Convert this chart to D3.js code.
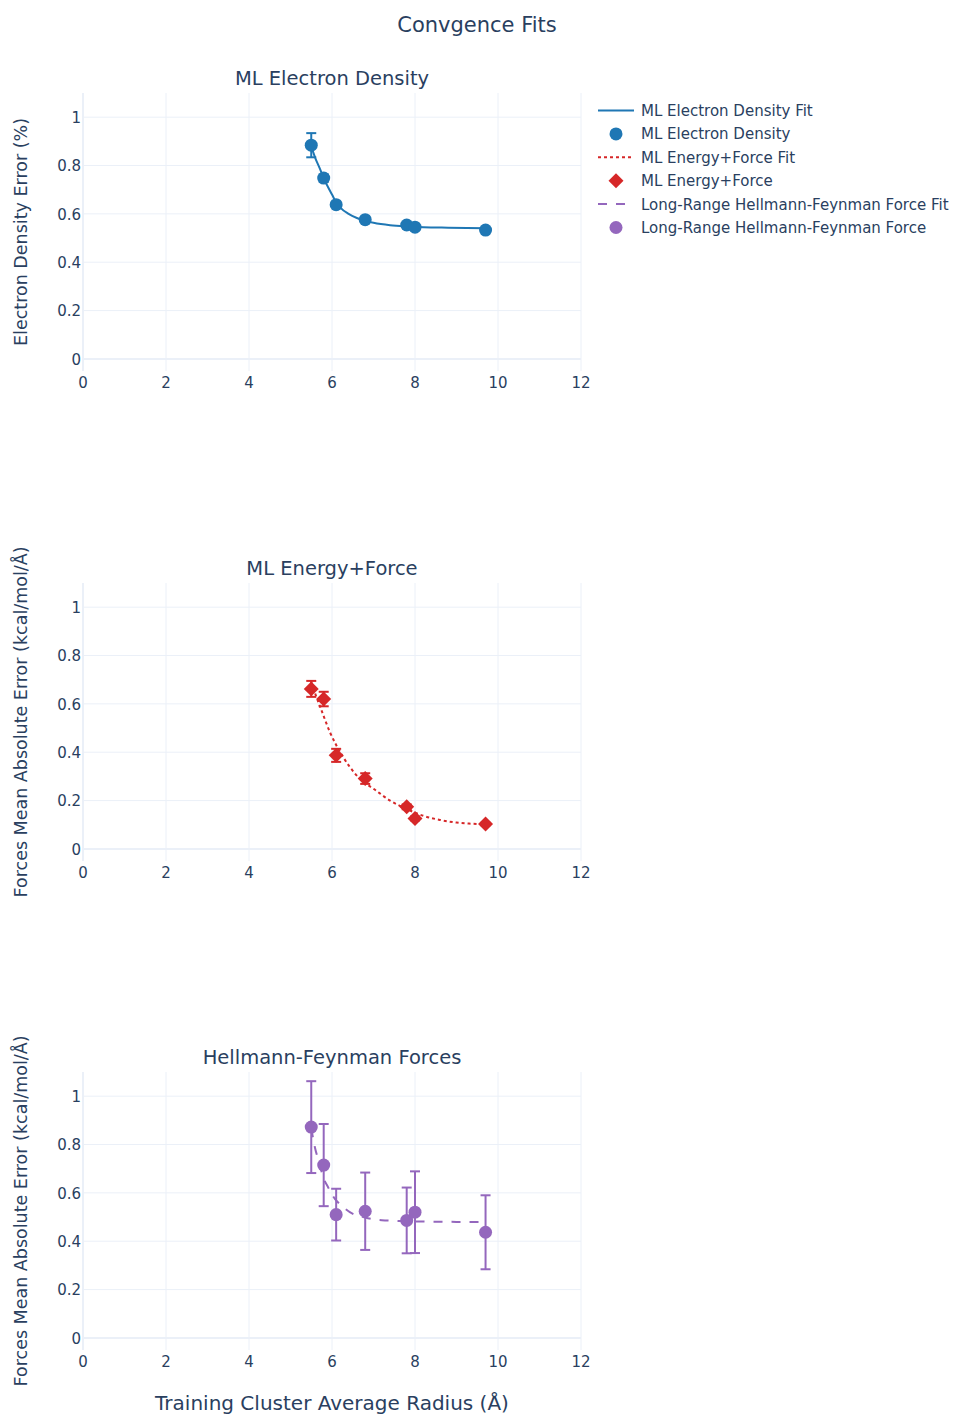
<!DOCTYPE html>
<html>
<head>
<meta charset="utf-8">
<script src="https://cdn.jsdelivr.net/npm/d3@7"></script>
<style>
  html, body { margin: 0; padding: 0; background: #fff; }
  text { font-family: "DejaVu Sans", Verdana, sans-serif; fill: #2a3f5f; }
</style>
</head>
<body>
<svg id="chart" width="953" height="1414"></svg>
<script>
// ---------------- DATA ----------------
const radius = [5.5, 5.8, 6.1, 6.8, 7.8, 8.0, 9.7];

const densityErr = [0.884, 0.748, 0.638, 0.576, 0.554, 0.545, 0.533];
const densityStd = [0.05, 0.015, 0.008, 0.006, 0.006, 0.005, 0.004];
const densityFitX = [5.5, 5.6, 5.7, 5.8, 5.9, 6.0, 6.1, 6.2, 6.4, 6.6, 6.8, 7.0, 7.4, 7.8, 8.2, 8.8, 9.7];
const densityFitY = [0.878, 0.83, 0.79, 0.748, 0.712, 0.68, 0.648, 0.626, 0.6, 0.583, 0.571, 0.563, 0.553, 0.548, 0.545, 0.543, 0.541];

const energyForceErr = [0.662, 0.620, 0.387, 0.291, 0.174, 0.126, 0.103];
const energyForceStd = [0.033, 0.03, 0.027, 0.022, 0.01, 0.008, 0.005];
const energyFitX = [5.5, 5.6, 5.75, 5.95, 6.1, 6.43, 6.7, 7.0, 7.4, 7.8, 8.2, 8.6, 9.0, 9.3, 9.7];
const energyFitY = [0.69, 0.64, 0.572, 0.483, 0.43, 0.339, 0.285, 0.249, 0.2, 0.165, 0.137, 0.12, 0.109, 0.105, 0.102];

const hfForceErr = [0.872, 0.715, 0.510, 0.524, 0.486, 0.520, 0.437];
const hfForceStd = [0.19, 0.17, 0.107, 0.16, 0.136, 0.169, 0.153];
const hfFitX = [5.5, 5.59, 5.7, 5.79, 5.9, 6.07, 6.23, 6.43, 6.8, 7.2, 7.6, 8.3, 9.0, 9.7];
const hfFitY = [0.867, 0.787, 0.72, 0.664, 0.625, 0.575, 0.547, 0.52, 0.498, 0.487, 0.484, 0.481, 0.48, 0.48];

const xTicks = [0, 2, 4, 6, 8, 10, 12];
const yTicks = [0, 0.2, 0.4, 0.6, 0.8, 1];
const yTickLabels = ["0", "0.2", "0.4", "0.6", "0.8", "1"];

const chartTitle = "Convgence Fits";
const subplotTitles = ["ML Electron Density", "ML Energy+Force", "Hellmann-Feynman Forces"];
const yTitles = ["Electron Density Error (%)", "Forces Mean Absolute Error (kcal/mol/Å)", "Forces Mean Absolute Error (kcal/mol/Å)"];
const xTitle = "Training Cluster Average Radius (Å)";
const legendNames = ["ML Electron Density Fit", "ML Electron Density", "ML Energy+Force Fit", "ML Energy+Force",
                     "Long-Range Hellmann-Feynman Force Fit", "Long-Range Hellmann-Feynman Force"];

// ---------------- LAYOUT ----------------
const svg = d3.select("#chart");
const colors = ["#1f77b4", "#d62728", "#9467bd"];
const gridColor = "#EBF0F8";
const plotLeft = 83, plotRight = 581, plotH = 278;
const panelTops = [93, 583, 1072];

const x = d3.scaleLinear().domain([0, 12]).range([plotLeft, plotRight]);

// plotly-like square diamond symbol
const squareDiamond = {
  draw(context, size) {
    const r = Math.sqrt(size / 2);
    context.moveTo(r, 0); context.lineTo(0, r); context.lineTo(-r, 0); context.lineTo(0, -r); context.closePath();
  }
};
const symCircle = d3.symbol().type(d3.symbolCircle).size(133);
const symDiamond = d3.symbol().type(squareDiamond).size(112);

const panels = [
  { pts: densityErr, std: densityStd, fx: densityFitX, fy: densityFitY, dash: null, symbol: symCircle },
  { pts: energyForceErr, std: energyForceStd, fx: energyFitX, fy: energyFitY, dash: "3,3", symbol: symDiamond },
  { pts: hfForceErr, std: hfForceStd, fx: hfFitX, fy: hfFitY, dash: "9,9", symbol: symCircle }
];

panels.forEach((p, i) => {
  const top = panelTops[i];
  const y = d3.scaleLinear().domain([-0.05, 1.1]).range([top + plotH, top]);
  const g = svg.append("g");
  const color = colors[i];

  // vertical gridlines
  g.selectAll(".vg").data(xTicks.filter(t => t !== 0)).enter().append("line")
    .attr("x1", d => x(d)).attr("x2", d => x(d))
    .attr("y1", top).attr("y2", top + plotH)
    .attr("stroke", gridColor).attr("stroke-width", 1);
  // horizontal gridlines
  g.selectAll(".hg").data(yTicks.filter(t => t !== 0)).enter().append("line")
    .attr("x1", plotLeft).attr("x2", plotRight)
    .attr("y1", d => y(d)).attr("y2", d => y(d))
    .attr("stroke", gridColor).attr("stroke-width", 1);
  // zero lines
  g.append("line").attr("x1", plotLeft).attr("x2", plotRight)
    .attr("y1", y(0)).attr("y2", y(0)).attr("stroke", gridColor).attr("stroke-width", 2);
  g.append("line").attr("x1", x(0)).attr("x2", x(0))
    .attr("y1", top).attr("y2", top + plotH).attr("stroke", gridColor).attr("stroke-width", 2);

  // tick labels
  g.selectAll(".yt").data(yTicks).enter().append("text")
    .attr("x", plotLeft - 2).attr("y", d => y(d) + 0.5).attr("dy", "0.36em")
    .attr("text-anchor", "end").attr("font-size", 15)
    .text((d, k) => yTickLabels[k]);
  g.selectAll(".xt").data(xTicks).enter().append("text")
    .attr("x", d => x(d)).attr("y", top + plotH + 12).attr("dy", "0.36em")
    .attr("text-anchor", "middle").attr("font-size", 15)
    .text(d => d);

  // subplot title
  g.append("text").attr("x", (plotLeft + plotRight) / 2).attr("y", top - 15).attr("dy", "0.36em")
    .attr("text-anchor", "middle").attr("font-size", 19.5).text(subplotTitles[i]);

  // y title
  g.append("text").attr("transform", `translate(21,${top + plotH / 2}) rotate(-90)`)
    .attr("dy", "0.36em").attr("text-anchor", "middle").attr("font-size", 17.5).text(yTitles[i]);

  // fit line
  const line = d3.line().x(d => x(d[0])).y(d => y(d[1])).curve(d3.curveMonotoneX);
  const fitPath = g.append("path").datum(p.fx.map((v, k) => [v, p.fy[k]]))
    .attr("d", line).attr("fill", "none").attr("stroke", color).attr("stroke-width", 2);
  if (p.dash) fitPath.attr("stroke-dasharray", p.dash);

  // error bars
  const eb = g.selectAll(".eb").data(radius.map((r, k) => [r, p.pts[k], p.std[k]])).enter().append("g");
  eb.append("line").attr("x1", d => x(d[0])).attr("x2", d => x(d[0]))
    .attr("y1", d => y(d[1] - d[2])).attr("y2", d => y(d[1] + d[2]))
    .attr("stroke", color).attr("stroke-width", 2);
  [-1, 1].forEach(s => {
    eb.append("line").attr("x1", d => x(d[0]) - 5).attr("x2", d => x(d[0]) + 5)
      .attr("y1", d => y(d[1] + s * d[2])).attr("y2", d => y(d[1] + s * d[2]))
      .attr("stroke", color).attr("stroke-width", 2);
  });

  // markers
  g.selectAll(".pt").data(radius.map((r, k) => [r, p.pts[k]])).enter().append("path")
    .attr("d", p.symbol)
    .attr("transform", d => `translate(${x(d[0])},${y(d[1])})`)
    .attr("fill", color);
});

// main title
svg.append("text").attr("x", 477).attr("y", 24).attr("dy", "0.36em")
  .attr("text-anchor", "middle").attr("font-size", 21).text(chartTitle);

// x axis title
svg.append("text").attr("x", (plotLeft + plotRight) / 2).attr("y", 1403).attr("dy", "0.36em")
  .attr("text-anchor", "middle").attr("font-size", 20).text(xTitle);

// legend
const legY0 = 110.5, legStep = 23.4;
const leg = svg.append("g");
legendNames.forEach((name, k) => {
  const yy = legY0 + k * legStep;
  const c = colors[Math.floor(k / 2)];
  if (k % 2 === 0) {
    const ln = leg.append("line").attr("x1", 598).attr("x2", 634).attr("y1", yy).attr("y2", yy)
      .attr("stroke", c).attr("stroke-width", 2);
    if (panels[k / 2].dash) ln.attr("stroke-dasharray", panels[k / 2].dash);
  } else {
    leg.append("path").attr("d", panels[(k - 1) / 2].symbol)
      .attr("transform", `translate(616,${yy})`).attr("fill", c);
  }
  leg.append("text").attr("x", 641).attr("y", yy).attr("dy", "0.36em")
    .attr("font-size", 15).text(name);
});
</script>
</body>
</html>
